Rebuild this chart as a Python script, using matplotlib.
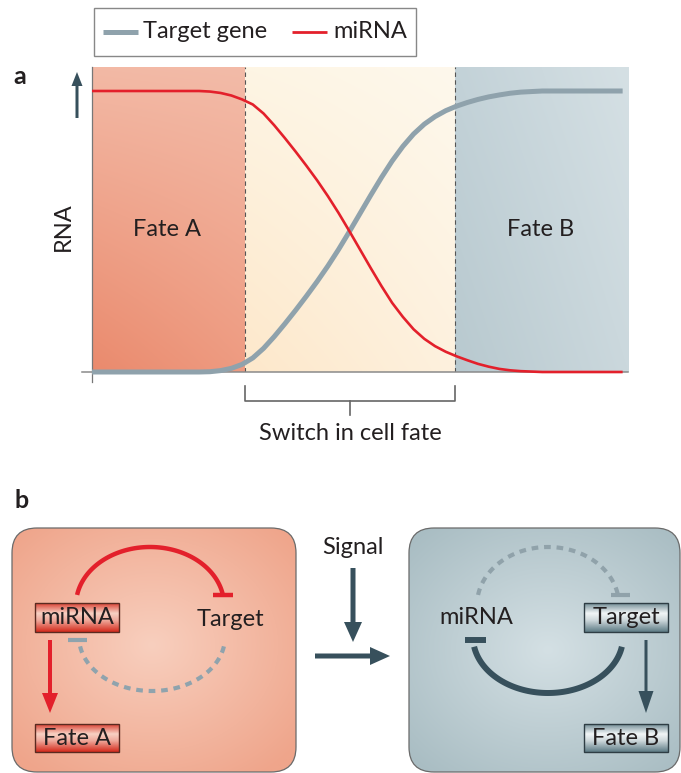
import numpy as np
import matplotlib
matplotlib.use("Agg")
import matplotlib.pyplot as plt
from matplotlib.patches import Rectangle, FancyBboxPatch, FancyArrow
from matplotlib.colors import to_rgb

plt.rcParams['font.family'] = ['Lato', 'DejaVu Sans']

# ---------------- data (panel a) ----------------
time_pts = [0, 18, 20, 22, 24, 26, 28, 30, 32, 34, 36, 38, 40, 42, 44, 46, 48, 50,
            52, 54, 56, 58, 60, 62, 64, 66, 68, 70, 72, 74, 76, 78, 80, 84, 99]
mirna_vals = [1.0, 1.0, 1.0, 0.998, 0.993, 0.984, 0.970, 0.952, 0.920, 0.878, 0.832, 0.784,
              0.734, 0.682, 0.626, 0.566, 0.502, 0.436, 0.370, 0.306, 0.246, 0.196, 0.152,
              0.118, 0.092, 0.072, 0.056, 0.042, 0.029, 0.019, 0.011, 0.006, 0.003, 0.0, 0.0]
target_vals = [0.0, 0.0, 0.0, 0.001, 0.005, 0.013, 0.027, 0.050, 0.084, 0.126, 0.172, 0.220,
               0.270, 0.322, 0.377, 0.436, 0.499, 0.564, 0.629, 0.692, 0.751, 0.803, 0.847,
               0.882, 0.909, 0.930, 0.946, 0.959, 0.970, 0.979, 0.986, 0.992, 0.996, 1.0, 1.0]
phase_bounds = [0, 28.54, 67.72, 100]
phase_labels = ["Fate A", "Fate B"]
legend_labels = ["Target gene", "miRNA"]

RED = '#e3202b'
GREY = '#8fa2ac'
DARK = '#37505c'
TXT = '#231f20'
FS = 17

W, H = 681, 773
fig = plt.figure(figsize=(W / 100, H / 100), dpi=100)


def bilinear(tl, tr, bl, br, n=80):
    tl, tr, bl, br = [np.array(to_rgb(c)) for c in (tl, tr, bl, br)]
    v = np.linspace(0, 1, n)[:, None, None]
    u = np.linspace(0, 1, n)[None, :, None]
    top = tl * (1 - u) + tr * u
    bot = bl * (1 - u) + br * u
    return top * (1 - v) + bot * v


# ---------------- panel a chart ----------------
YTOP = 305 / 281
axa = fig.add_axes([92 / W, 1 - 372 / H, 536 / W, 305 / H], zorder=1)
axa.set_xlim(0, 100)
axa.set_ylim(0, YTOP)
axa.patch.set_visible(False)
for s in axa.spines.values():
    s.set_visible(False)
axa.set_xticks([])
axa.set_yticks([])

bgs = [bilinear('#f3b9a5', '#f3bba8', '#ea8a6d', '#ee9b81'),
       bilinear('#fef5e4', '#fef8ec', '#fde8cb', '#fdf1de'),
       bilinear('#c3d2d8', '#d5e0e4', '#b8c9cf', '#cbd8dd')]
for i, img in enumerate(bgs):
    axa.imshow(img, extent=[phase_bounds[i], phase_bounds[i + 1], 0, YTOP],
               aspect='auto', origin='upper', zorder=0, interpolation='bilinear')
for xb in phase_bounds[1:3]:
    axa.axvline(xb, color='#555555', lw=0.8, dashes=(4, 3), zorder=1)

axa.plot([0, 0], [-10 / 281, YTOP], color='#777777', lw=0.9, clip_on=False, zorder=2)
axa.plot([-10 / 5.36, 100], [0, 0], color='#8a8a8a', lw=1.1, clip_on=False, zorder=2)

axa.plot(time_pts, target_vals, color=GREY, lw=3.6, solid_capstyle='butt',
         solid_joinstyle='round', clip_on=False, zorder=3)
axa.plot(time_pts, mirna_vals, color=RED, lw=1.9, solid_capstyle='butt',
         solid_joinstyle='round', clip_on=False, zorder=4)

# ---------------- overlay pixel axes ----------------
ax = fig.add_axes([0, 0, 1, 1], zorder=2)
ax.set_xlim(0, W)
ax.set_ylim(H, 0)
ax.axis('off')
ax.patch.set_visible(False)

# legend
ax.add_patch(Rectangle((94, 8), 322, 48, facecolor='white', edgecolor='#888888', lw=1))
ax.plot([103, 138], [32, 32], color=GREY, lw=3.6, solid_capstyle='butt')
ax.text(143, 31, legend_labels[0], fontsize=FS, color=TXT, va='center', ha='left')
ax.plot([292, 327], [32, 32], color=RED, lw=2, solid_capstyle='butt')
ax.text(333, 31, legend_labels[1], fontsize=FS, color=TXT, va='center', ha='left')

# panel letters
ax.text(20, 77, 'a', fontsize=18, fontweight='bold', color=TXT, ha='center', va='center')
ax.text(22, 501, 'b', fontsize=18, fontweight='bold', color=TXT, ha='center', va='center')

# y axis arrow and label
ax.add_patch(FancyArrow(77, 118, 0, -46, width=3, head_width=11, head_length=14,
                        length_includes_head=True, color=DARK, lw=0))
ax.text(63, 227, 'RNA', fontsize=FS, color=TXT, rotation=90, ha='center', va='center')
ax.text(167, 230, phase_labels[0], fontsize=FS, color=TXT, ha='center', va='center')
ax.text(541, 230, phase_labels[1], fontsize=FS, color=TXT, ha='center', va='center')

# bracket
ax.plot([245, 245, 455, 455], [386, 401, 401, 386], color='#666666', lw=1.2)
ax.plot([350, 350], [401, 415], color='#666666', lw=1.2)
ax.text(350, 433, 'Switch in cell fate', fontsize=FS, color=TXT, ha='center', va='center')

# ---------------- panel b ----------------
def radial_box(x0, y0, w, h, cx, cy, c_in, c_out, sx, sy):
    box = FancyBboxPatch((x0, y0), w, h, boxstyle='round,pad=0,rounding_size=25',
                         facecolor='none', edgecolor='#6a6a6a', lw=0.9, zorder=3)
    n = 200
    xs = np.linspace(x0, x0 + w, n)
    ys = np.linspace(y0, y0 + h, n)
    X, Y = np.meshgrid(xs, ys)
    r = np.clip(np.sqrt(((X - cx) / sx) ** 2 + ((Y - cy) / sy) ** 2), 0, 1)[..., None]
    ci, co = np.array(to_rgb(c_in)), np.array(to_rgb(c_out))
    img = ci * (1 - r) + co * r
    im = ax.imshow(img, extent=[x0, x0 + w, y0 + h, y0], origin='upper',
                   aspect='auto', zorder=1, interpolation='bilinear')
    ax.add_patch(box)
    im.set_clip_path(box)


radial_box(12, 528, 284, 244, 152, 645, '#f8cfbe', '#efa58b', 190, 160)
radial_box(409, 528, 271, 244, 548, 650, '#d4e0e4', '#a9bdc3', 190, 160)


def glossy(x0, y0, w, h, dark, light, edge, label):
    t = np.linspace(0, 1, 60)
    f = np.interp(t, [0, 0.35, 0.6, 1], [0.15, 1.0, 0.75, 0.0])[:, None, None]
    d, l = np.array(to_rgb(dark)), np.array(to_rgb(light))
    img = d * (1 - f) + l * f
    img = np.repeat(img, 2, axis=1)
    ax.imshow(img, extent=[x0, x0 + w, y0 + h, y0], origin='upper', aspect='auto',
              zorder=4, interpolation='bilinear')
    ax.add_patch(Rectangle((x0, y0), w, h, facecolor='none', edgecolor=edge, lw=1, zorder=5))
    ax.text(x0 + w / 2, y0 + h / 2 + 0.5, label, fontsize=FS, color=TXT,
            ha='center', va='center', zorder=6)


glossy(35, 603, 84, 29, '#d42a1c', '#f8d2c4', '#5a2a20', 'miRNA')
glossy(35, 724, 84, 28, '#d42a1c', '#f8d2c4', '#5a2a20', 'Fate A')
glossy(584, 603, 84, 29, '#5d7b85', '#f2f6f7', '#2e3d44', 'Target')
glossy(584, 724, 84, 28, '#5d7b85', '#f2f6f7', '#2e3d44', 'Fate B')

ax.text(230, 619, 'Target', fontsize=FS, color=TXT, ha='center', va='center', zorder=6)
ax.text(476, 618, 'miRNA', fontsize=FS, color=TXT, ha='center', va='center', zorder=6)
ax.text(353, 547, 'Signal', fontsize=FS, color=TXT, ha='center', va='center', zorder=6)


def arc(cx, cy, rx, ry, top, **kw):
    t = np.radians(np.linspace(170, 10, 120))
    x = cx + rx * np.cos(t)
    y = cy - ry * np.sin(t) if top else cy + ry * np.sin(t)
    ax.plot(x, y, zorder=5, **kw)


# left box arcs
arc(150, 605, 74, 58, True, color=RED, lw=3.2, solid_capstyle='butt')
ax.plot([213, 233], [595, 595], color=RED, lw=3.2, solid_capstyle='butt', zorder=5)
arc(152, 637, 73, 54, False, color='#8fa3ad', lw=3.0, linestyle=(0, (1.6, 1.4)),
    dash_capstyle='butt')
ax.plot([68, 87], [640, 640], color='#8fa3ad', lw=3.0, solid_capstyle='butt', zorder=5)

# right box arcs
arc(548, 605, 71, 58, True, color='#90a2aa', lw=3.0, linestyle=(0, (1.6, 1.4)),
    dash_capstyle='butt')
ax.plot([611, 630], [595, 595], color='#90a2aa', lw=3.0, solid_capstyle='butt', zorder=5)
arc(548, 637, 75, 56, False, color=DARK, lw=4.3, solid_capstyle='butt')
ax.plot([465, 486], [640, 640], color=DARK, lw=4.3, solid_capstyle='butt', zorder=5)

# arrows
ax.add_patch(FancyArrow(50, 640, 0, 73, width=4, head_width=16, head_length=20,
                        length_includes_head=True, color=RED, lw=0, zorder=5))
ax.add_patch(FancyArrow(646, 640, 0, 73, width=3, head_width=15, head_length=22,
                        length_includes_head=True, color=DARK, lw=0, zorder=5))
ax.add_patch(FancyArrow(353, 568, 0, 74, width=5, head_width=18, head_length=20,
                        length_includes_head=True, color=DARK, lw=0, zorder=5))
ax.add_patch(FancyArrow(315, 656, 75, 0, width=5, head_width=18, head_length=20,
                        length_includes_head=True, color=DARK, lw=0, zorder=5))

fig.savefig('out.png', dpi=100)
